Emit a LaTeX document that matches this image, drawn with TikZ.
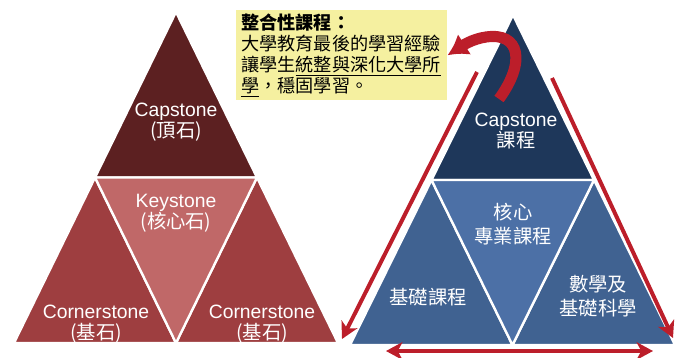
\documentclass[tikz,border=0pt]{standalone}
\usepackage{fontspec}
\setmainfont{Liberation Sans}
\newfontfamily\cjk{Noto Sans CJK TC}
\usetikzlibrary{arrows.meta}

\definecolor{capred}{RGB}{92,32,33}
\definecolor{cornerred}{RGB}{158,62,64}
\definecolor{keyred}{RGB}{192,104,104}
\definecolor{capblue}{RGB}{30,55,90}
\definecolor{cornerblue}{RGB}{64,98,145}
\definecolor{coreblue}{RGB}{76,112,166}
\definecolor{arrowred}{RGB}{188,30,42}
\definecolor{notebg}{RGB}{245,240,160}

\begin{document}
\begin{tikzpicture}[
		x = 0.03cm, y = -0.03cm, % one unit per pixel, y going down
		piece/.style = {draw = white, line width = 2pt, line join = round}, % white gaps
		stonetext/.style = {text = white, align = center, font = \fontsize{16.5}{17.9}\selectfont},
		sidetip/.tip = {Stealth[length = 14pt, width = 15pt, inset = 4pt]},
		sidearrow/.style = {arrowred, line width = 3.4pt, -sidetip},
		bendarrow/.style = {arrowred, line width = 9.5pt, -{Latex[length = 0.6cm, width = 0.74cm]}}
		]
		
		\tikzstyle{notebox}=[
		fill = notebg,
		align = left,
		text width = 6.03cm,
		inner xsep = 0.15cm,
		minimum height = 2.61cm,
		font = \cjk\fontsize{15.5}{17.9}\selectfont
		]
		
		\useasboundingbox (0,0) rectangle (676,357);
		
		% left pyramid
		\coordinate (lA) at (176,12);
		\coordinate (lBL) at (14,343);
		\coordinate (lBR) at (338,343);
		\coordinate (lML) at (95,177.5);
		\coordinate (lMR) at (257,177.5);
		\coordinate (lMB) at (176,343);
		
		\filldraw[piece, fill = capred] (lA) -- (lML) -- (lMR) -- cycle;
		\filldraw[piece, fill = cornerred] (lML) -- (lBL) -- (lMB) -- cycle;
		\filldraw[piece, fill = cornerred] (lMR) -- (lMB) -- (lBR) -- cycle;
		\filldraw[piece, fill = keyred] (lML) -- (lMR) -- (lMB) -- cycle;
		
		\node[stonetext] (lcap) at (176,122) {Capstone\\{\cjk(頂石)}};
		\node[stonetext] (lkey) at (176,213) {Keystone\\{\cjk(核心石)}};
		\node[stonetext] (lcorner1) at (96,324) {Cornerstone\\{\cjk(基石)}};
		\node[stonetext] (lcorner2) at (262,324) {Cornerstone\\{\cjk(基石)}};
		
		% right pyramid
		\coordinate (rA) at (513,15);
		\coordinate (rBL) at (350,345);
		\coordinate (rBR) at (675,345);
		\coordinate (rML) at (431.5,180);
		\coordinate (rMR) at (594,180);
		\coordinate (rMB) at (512.5,345);
		
		\filldraw[piece, fill = capblue] (rA) -- (rML) -- (rMR) -- cycle;
		\filldraw[piece, fill = cornerblue] (rML) -- (rBL) -- (rMB) -- cycle;
		\filldraw[piece, fill = cornerblue] (rMR) -- (rMB) -- (rBR) -- cycle;
		\filldraw[piece, fill = coreblue] (rML) -- (rMR) -- (rMB) -- cycle;
		
		\node[stonetext] (rcap) at (516,131) {Capstone\\{\cjk 課程}};
		\node[stonetext, font = \cjk\fontsize{16.5}{21}\selectfont] (rcore) at (513,224) {核心\\專業課程};
		\node[stonetext, font = \cjk\fontsize{16.5}{21}\selectfont] (rbase) at (428,297) {基礎課程};
		\node[stonetext, font = \cjk\fontsize{16.5}{21}\selectfont] (rscience) at (598,296) {數學及\\基礎科學};
		
		% note box
		\node[notebox, anchor = north west] (note) at (236,10)
		{{\bfseries 整合性課程：}\\
			大學教育最後的學習經驗\\
			讓學生\underline{統整與深化大學所}\\
			\underline{學}，穩固學習。};
		
		% arrows
		\coordinate (curvetail) at (499,99);
		\coordinate (curvetop) at (486,37);
		\coordinate (leftstart) at (477,72);
		\coordinate (leftend) at (342,339);
		\coordinate (rightstart) at (552,78);
		\coordinate (rightend) at (673,338);
		\coordinate (basestart) at (386,351);
		\coordinate (baseend) at (653,351);
		
		\draw[bendarrow] (curvetail) .. controls (526,62) and (520,32) .. (curvetop)
		.. controls (472,39) and (462,46) .. (note.east);
		\draw[sidearrow] (leftstart) -- (leftend);
		\draw[sidearrow] (rightstart) -- (rightend);
		\draw[sidearrow, sidetip-sidetip] (basestart) -- (baseend);
		
\end{tikzpicture}
\end{document}
